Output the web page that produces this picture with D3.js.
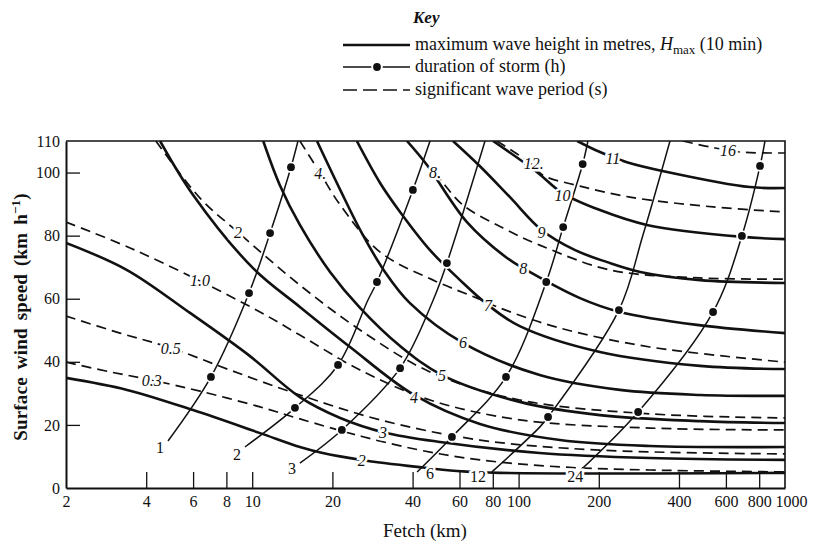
<!DOCTYPE html>
<html>
<head>
<meta charset="utf-8">
<script src="https://cdnjs.cloudflare.com/ajax/libs/d3/7.8.5/d3.min.js"></script>
<style>
  body { margin: 0; background: #fff; }
  svg text { font-family: "Liberation Serif", "Times New Roman", serif; fill: #111; }
</style>
</head>
<body>
<div id="chart"></div>
<script>
// axis ticks
const fetchTicks = [2, 4, 6, 8, 10, 20, 40, 60, 80, 100, 200, 400, 600, 800, 1000];
const speedTicks = [0, 20, 40, 60, 80, 100, 110];

// maximum wave height (m) curves: [fetch km, wind km/h]
const hmax2 = [[2,34.9],[3.39,31.1],[6.0,24.7],[10.7,17.4],[15.1,13.0],[18.4,11.1],[25.8,8.9],[41.6,6.7],[58.7,5.4],[85,4.8],[1000,4.8]];
const hmax3 = [[2,77.7],[3.39,69.1],[5.84,55.5],[9.81,41.8],[15.1,28.8],[21.4,22.2],[31,17.7],[50.7,14.6],[120,11.1],[311,9.5],[1000,8.9]];
const hmax4 = [[4.51,110],[6.0,92.9],[10.07,69.7],[15.1,57.4],[23.3,44.7],[40.5,29.5],[71.6,20.3],[143,15.2],[311,13.3],[1000,13]];
const hmax5 = [[11,110],[12.7,96],[15.1,83.4],[19.6,68.5],[25.4,57.1],[35.9,45.0],[51.6,35.8],[101,27.3],[202,23.1],[480,21.2],[1000,20.6]];
const hmax6 = [[17.5,110],[21.4,94.5],[25.8,80.8],[31.5,68.5],[39.1,58.6],[61.8,46],[120,35.8],[240,31.1],[480,29.5],[1000,29.2]];
const hmax7 = [[24.7,110],[30.2,96.7],[35.9,87.5],[46.5,75.4],[60.3,65.9],[76.8,58.0],[101,51.3],[202,43.1],[480,38.7],[1000,37.7]];
const hmax8 = [[38.1,110],[45.3,102.4],[64,84.3],[90.5,72.9],[104,69.7],[170,60.2],[240,55.8],[467,51.7],[1000,49.1]];
const hmax9 = [[56.7,110],[71.6,102],[92.8,92.2],[122,81.8],[163,75.4],[215,71.6],[286,68.5],[480,65.9],[1000,65]];
const hmax10 = [[80.2,110],[117,100.2],[146,93.5],[202,88.1],[303,83.4],[695,79.6],[1000,78.9]];
const hmax11 = [[166,110],[202,106.5],[255,103.3],[361,100.2],[739,95.4],[1000,95.1]];

// significant wave period curves
const per03 = [[2,39.9],[2.93,36.8],[4.2,34.2],[6.37,30.7],[10.7,25.7],[15.1,21.9],[25.4,16.5],[42.7,12.0],[71.6,8.9],[143,6.7],[311,5.7],[1000,5.1]];
const per05 = [[2,54.5],[3.19,49.1],[4.95,44.4],[8.25,37.4],[15.1,29.5],[30.2,21.6],[71.6,15.2],[202,12.0],[1000,10.8]];
const per10 = [[2,84.3],[3.48,76.1],[6.37,65.6],[10.7,55.8],[15.1,48.5],[25.4,37.4],[46.5,27.9],[101,21.6],[311,19.0],[1000,18.4]];
const per2 = [[4.35,110],[6.37,91.9],[8.84,81.1],[15.1,64.3],[25.4,50.1],[46.5,36.8],[101,27.9],[311,23.5],[1000,22.2]];
const per4 = [[15.1,110],[18,99.8],[21.4,89.7],[30.2,74.8],[47.8,65.9],[69.8,60.2],[87.4,56.7],[143,50.7],[311,44.7],[1000,39.9]];
const per8 = [[48.6,100.2],[52.9,96],[61.8,89.7],[87.4,82.4],[120,77],[221,69.1],[480,66.6],[1000,66.2]];
const per12 = [[82.9,110],[113,102.4],[123,99.2],[170,95.7],[262,92.2],[537,89.1],[1000,87.5]];
const per16 = [[414,110],[523,108.1],[678,106.5],[1000,106.2]];

// storm duration curves (third value 1 = marked point)
const dur1 = [[4.83,14.9,0],[7.0,35.2,1],[9.73,61.8,1],[11.67,80.8,1],[13.98,101.7,1],[14.85,110,0]];
const dur2 = [[9.39,13.0,0],[14.47,25.4,1],[21.0,39.0,1],[27.2,59.6,0],[29.4,65.3,1],[40.1,94.5,1],[46.5,110,0]];
const dur3 = [[15.1,7.9,0],[21.7,18.4,1],[35.9,38.0,1],[47.8,59.6,0],[53.8,71.3,1],[74.8,110,0]];
const dur6 = [[41.6,5.1,0],[56.2,16.2,1],[89.7,35.2,1],[127,65.3,1],[147,82.7,1],[174,102.7,1],[182,110,0]];
const dur12 = [[79.4,5.1,0],[120,19.3,0],[129,22.5,1],[238,56.4,1],[293,80.2,0],[370,110,0]];
const dur24 = [[153,1.9,0],[281,24.1,1],[537,55.8,1],[689,79.9,1],[806,102.1,1],[841,110,0]];

// curve labels: [text, fetch, wind]
const heightLabels = [["2",25.8,8.9],["3",31.0,17.7],["4",40.5,28.8],["5",51.6,35.8],["6",61.8,46.0],["7",76.8,58.0],["8",104,69.7],["9",122,81.1],["10",146,92.9],["11",226,104.6]];
const periodLabels = [["0.3",4.2,34.2],["0.5",4.95,44.4],["1.0",6.37,65.9],["2",8.84,81.1],["4.",18.0,99.8],["8.",48.6,100.2],["12.",114,103],["16",611,107.1]];
const durationLabels = [["1",4.51,13.0],["2",8.77,10.5],["3",14.1,6.3],["6",46.5,4.75],["12",70.4,3.8],["24",163,3.8]];

const heightSeries = [hmax2, hmax3, hmax4, hmax5, hmax6, hmax7, hmax8, hmax9, hmax10, hmax11];
const periodSeries = [per03, per05, per10, per2, per4, per8, per12, per16];
const durationSeries = [dur1, dur2, dur3, dur6, dur12, dur24];

const width = 816, height = 546;
const margin = {top: 141, right: 31, bottom: 58, left: 66};

const x = d3.scaleLog().domain([2, 1000]).range([margin.left, width - margin.right]);
const y = d3.scaleLinear().domain([0, 110]).range([height - margin.bottom, margin.top]);

const svg = d3.select("#chart").append("svg")
    .attr("width", width)
    .attr("height", height);

svg.append("defs").append("clipPath").attr("id", "plot")
    .append("rect")
    .attr("x", margin.left).attr("y", margin.top)
    .attr("width", width - margin.left - margin.right)
    .attr("height", height - margin.top - margin.bottom);

const line = d3.line()
    .x(d => x(d[0]))
    .y(d => y(d[1]))
    .curve(d3.curveCatmullRom.alpha(0.5));

const plot = svg.append("g").attr("clip-path", "url(#plot)");

plot.selectAll(".period")
    .data(periodSeries)
    .enter().append("path")
    .attr("class", "period")
    .attr("d", line)
    .attr("fill", "none")
    .attr("stroke", "#111")
    .attr("stroke-width", 1.7)
    .attr("stroke-dasharray", "10,6");

plot.selectAll(".hmax")
    .data(heightSeries)
    .enter().append("path")
    .attr("class", "hmax")
    .attr("d", line)
    .attr("fill", "none")
    .attr("stroke", "#111")
    .attr("stroke-width", 2.6);

plot.selectAll(".duration")
    .data(durationSeries)
    .enter().append("path")
    .attr("class", "duration")
    .attr("d", line)
    .attr("fill", "none")
    .attr("stroke", "#111")
    .attr("stroke-width", 1.5);

// dots on the duration lines, with a small white gap round each
const dots = durationSeries.flat().filter(d => d[2] === 1);
plot.selectAll(".dotgap")
    .data(dots)
    .enter().append("circle")
    .attr("cx", d => x(d[0]))
    .attr("cy", d => y(d[1]))
    .attr("r", 5.8)
    .attr("fill", "#fff");
plot.selectAll(".dot")
    .data(dots)
    .enter().append("circle")
    .attr("cx", d => x(d[0]))
    .attr("cy", d => y(d[1]))
    .attr("r", 3.9)
    .attr("fill", "#111");

function addLabels(data, italic) {
    svg.append("g").selectAll("text")
        .data(data)
        .enter().append("text")
        .attr("x", d => x(d[1]))
        .attr("y", d => y(d[2]))
        .attr("dy", "0.35em")
        .attr("text-anchor", "middle")
        .style("font-size", "16px")
        .style("font-style", italic ? "italic" : "normal")
        .style("stroke", "#fff")
        .style("stroke-width", 5)
        .style("paint-order", "stroke")
        .text(d => d[0]);
}
addLabels(periodLabels, true);
addLabels(heightLabels, true);
addLabels(durationLabels, false);

// axes
const xAxis = d3.axisBottom(x)
    .tickValues(fetchTicks)
    .tickFormat(d3.format("d"))
    .tickSizeInner(-16)
    .tickSizeOuter(0)
    .tickPadding(8);
const gx = svg.append("g")
    .attr("transform", "translate(0," + (height - margin.bottom) + ")")
    .call(xAxis);
gx.selectAll(".tick line").filter(d => d === 2 || d === 1000).remove();
gx.selectAll(".tick text").filter(d => d === 1000).attr("dx", 6);

const yAxis = d3.axisLeft(y)
    .tickValues(speedTicks)
    .tickSizeInner(-14)
    .tickSizeOuter(0)
    .tickPadding(6);
const gy = svg.append("g")
    .attr("transform", "translate(" + margin.left + ",0)")
    .call(yAxis);
gy.selectAll(".tick line").filter(d => d === 0 || d === 110).remove();

svg.selectAll(".domain").attr("stroke", "#111").attr("stroke-width", 2);
svg.selectAll(".tick line").attr("stroke", "#111").attr("stroke-width", 1.3);
svg.selectAll(".tick text")
    .style("font-family", "'Liberation Serif', serif")
    .style("font-size", "16px")
    .attr("fill", "#111");

// top and right frame
svg.append("path")
    .attr("d", "M" + margin.left + "," + margin.top + "H" + (width - margin.right) + "V" + (height - margin.bottom))
    .attr("fill", "none")
    .attr("stroke", "#111")
    .attr("stroke-width", 1.6);

// axis titles
svg.append("text")
    .attr("x", 425)
    .attr("y", 537)
    .attr("text-anchor", "middle")
    .style("font-size", "19px")
    .text("Fetch (km)");

const yTitle = svg.append("text")
    .attr("transform", "translate(27,317) rotate(-90)")
    .attr("text-anchor", "middle")
    .style("font-size", "19px")
    .style("font-weight", "bold")
    .style("letter-spacing", "0.2px")
    .style("word-spacing", "3px");
yTitle.append("tspan").text("Surface wind speed (km h");
yTitle.append("tspan").attr("dy", "-7").style("font-size", "13px").text("\u22121");
yTitle.append("tspan").attr("dy", "7").text(")");

// key
const keyX = 343, keyText = 415;
svg.append("text")
    .attr("x", keyText - 2).attr("y", 23)
    .style("font-size", "17px")
    .style("font-style", "italic")
    .style("font-weight", "bold")
    .text("Key");

const keyRows = [45, 67, 90];
svg.append("line")
    .attr("x1", keyX).attr("x2", 410).attr("y1", keyRows[0]).attr("y2", keyRows[0])
    .attr("stroke", "#111").attr("stroke-width", 2.6);
svg.append("line")
    .attr("x1", keyX).attr("x2", 410).attr("y1", keyRows[1]).attr("y2", keyRows[1])
    .attr("stroke", "#111").attr("stroke-width", 1.5);
svg.append("circle").attr("cx", 377).attr("cy", keyRows[1]).attr("r", 5.8).attr("fill", "#fff");
svg.append("circle").attr("cx", 377).attr("cy", keyRows[1]).attr("r", 3.9).attr("fill", "#111");
svg.append("line")
    .attr("x1", keyX).attr("x2", 410).attr("y1", keyRows[2]).attr("y2", keyRows[2])
    .attr("stroke", "#111").attr("stroke-width", 1.7).attr("stroke-dasharray", "14,6");

const k1 = svg.append("text").attr("x", keyText).attr("y", keyRows[0] + 5).style("font-size", "18px");
k1.append("tspan").text("maximum wave height in metres, ");
k1.append("tspan").style("font-style", "italic").text("H");
k1.append("tspan").attr("dy", 4).style("font-size", "13px").text("max");
k1.append("tspan").attr("dy", -4).text(" (10 min)");
svg.append("text").attr("x", keyText).attr("y", keyRows[1] + 5).style("font-size", "18px").text("duration of storm (h)");
svg.append("text").attr("x", keyText).attr("y", keyRows[2] + 5).style("font-size", "18px").text("significant wave period (s)");
</script>
</body>
</html>
